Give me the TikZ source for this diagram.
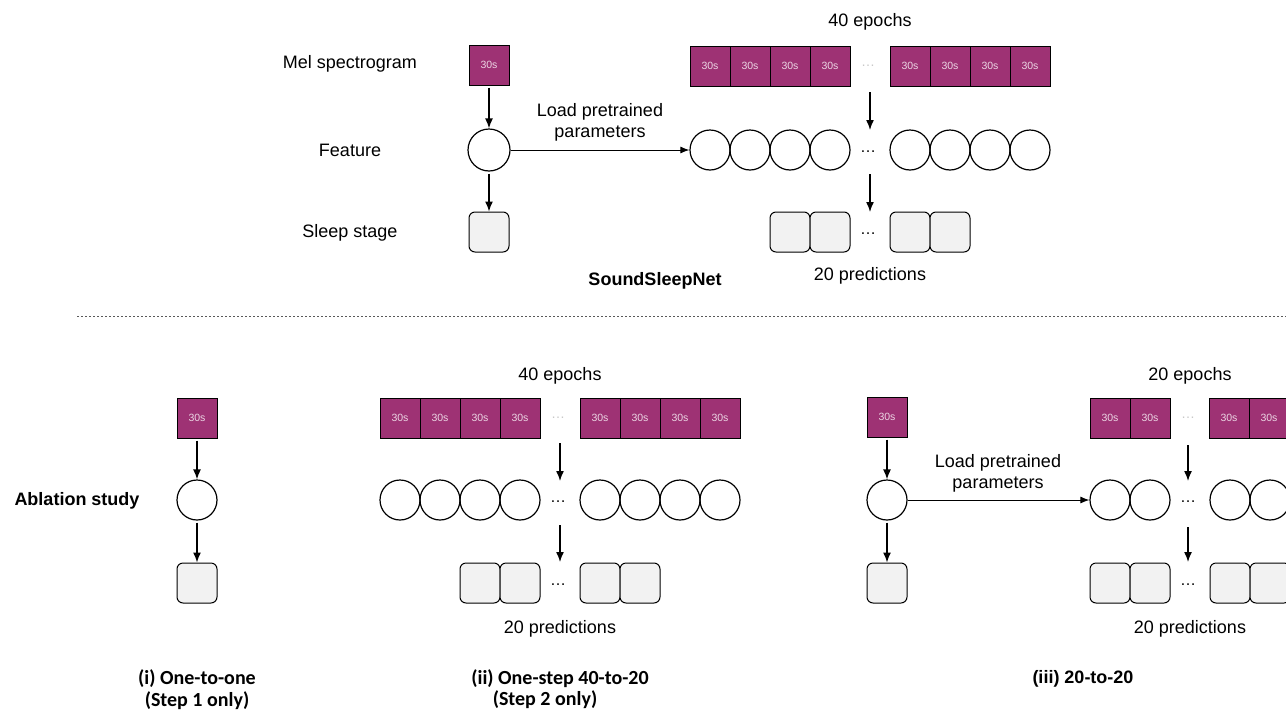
\documentclass[tikz,border=0pt]{standalone}
\usepackage{fontspec}
\setmainfont{Liberation Sans}
\newfontfamily\capfont{Carlito}
\usetikzlibrary{arrows.meta}
\definecolor{melfill}{RGB}{158,50,116}
\definecolor{meltext}{RGB}{236,214,228}
\definecolor{stagefill}{RGB}{242,242,242}
\definecolor{dotgray}{RGB}{200,200,200}

\begin{document}
\begin{tikzpicture}[x=1pt, y=-1pt,
	epoch/.style={shape=rectangle, draw=black, line width=1pt, fill=melfill, minimum size=40pt, inner sep=0pt, text=meltext, font=\fontsize{10.5}{12}\selectfont},
	feat/.style={shape=circle, draw=black, line width=1.2pt, minimum size=40pt, inner sep=0pt},
	stage/.style={shape=rectangle, rounded corners=6pt, draw=black, line width=1pt, fill=stagefill, minimum size=40pt, inner sep=0pt},
	lbl/.style={font=\fontsize{18}{21}\selectfont, align=center},
	bold/.style={font=\fontsize{18}{21}\selectfont\bfseries},
	capt/.style={font=\capfont\fontsize{20}{22}\selectfont\bfseries},
	bdots/.style={font=\fontsize{16}{18}\selectfont},
	gdots/.style={font=\fontsize{14}{16}\selectfont, text=dotgray},
	arr/.style={-{Latex[length=10pt,width=8pt]}, line width=1.4pt, shorten <=2pt},
	load/.style={-{Latex[length=9pt,width=7pt]}, line width=1pt}]
	
	\useasboundingbox (0,0) rectangle (1286,710);
	\clip (0,0) rectangle (1286,710);
	
	% SoundSleepNet
	\node[lbl] (tmel)   at (350,64)  {Mel spectrogram};
	\node[lbl] (tfeat)  at (350,150) {Feature};
	\node[lbl] (tstage) at (350,233) {Sleep stage};
	
	\node[epoch] (ts) at (489,65) {30s};
	\node[feat, minimum size=42pt] (tc) at (489,150) {};
	\node[stage] (tb) at (489,232) {};
	
	\node[lbl] (tload) at (600,122) {Load pretrained\\parameters};
	\node[lbl] (tep)   at (870,22)  {40 epochs};
	
	\node[epoch] (te1) at (710,66)  {30s};
	\node[epoch] (te2) at (750,66)  {30s};
	\node[epoch] (te3) at (790,66)  {30s};
	\node[epoch] (te4) at (830,66)  {30s};
	\node[gdots] (tgd) at (868,66)  {\ldots};
	\node[epoch] (te5) at (910,66)  {30s};
	\node[epoch] (te6) at (950,66)  {30s};
	\node[epoch] (te7) at (990,66)  {30s};
	\node[epoch] (te8) at (1030,66) {30s};
	
	\node[feat] (tf1) at (710,150)  {};
	\node[feat] (tf2) at (750,150)  {};
	\node[feat] (tf3) at (790,150)  {};
	\node[feat] (tf4) at (830,150)  {};
	\node[bdots] (tfd) at (868,152) {\ldots};
	\node[feat] (tf5) at (910,150)  {};
	\node[feat] (tf6) at (950,150)  {};
	\node[feat] (tf7) at (990,150)  {};
	\node[feat] (tf8) at (1030,150) {};
	
	\node[stage] (tp1) at (790,232) {};
	\node[stage] (tp2) at (830,232) {};
	\node[bdots] (tpd) at (868,234) {\ldots};
	\node[stage] (tp3) at (910,232) {};
	\node[stage] (tp4) at (950,232) {};
	
	\node[lbl]  (tpred) at (870,276) {20 predictions};
	\node[bold] (tname) at (655,281) {SoundSleepNet};
	
	\coordinate (ta1) at (870,90);
	\coordinate (ta2) at (870,130);
	\coordinate (ta3) at (870,172);
	\coordinate (ta4) at (870,212);
	
	\path[arr] (ts) edge (tc);
	\path[arr] (tc) edge (tb);
	\path[load] (tc) edge (tf1);
	\path[arr] (ta1) edge (ta2);
	\path[arr] (ta3) edge (ta4);
	
	% separator
	\coordinate (sl) at (77,316);
	\coordinate (sr) at (1286,316);
	\draw[dash pattern=on 2pt off 2pt, line width=0.8pt, black!65] (sl) -- (sr);
	
	% Ablation study
	\node[bold] (abl) at (77,501) {Ablation study};
	
	% (i)
	\node[epoch] (as) at (197,418) {30s};
	\node[feat]  (ac) at (197,500) {};
	\node[stage] (ab) at (197,583) {};
	\path[arr] (as) edge (ac);
	\path[arr] (ac) edge (ab);
	\node[capt, align=center] (acap) at (197,690) {(i) One-to-one\\(Step 1 only)};
	
	% (ii)
	\node[lbl] (bep) at (560,376) {40 epochs};
	\node[epoch] (be1) at (400,418) {30s};
	\node[epoch] (be2) at (440,418) {30s};
	\node[epoch] (be3) at (480,418) {30s};
	\node[epoch] (be4) at (520,418) {30s};
	\node[gdots] (bgd) at (558,418) {\ldots};
	\node[epoch] (be5) at (600,418) {30s};
	\node[epoch] (be6) at (640,418) {30s};
	\node[epoch] (be7) at (680,418) {30s};
	\node[epoch] (be8) at (720,418) {30s};
	
	\node[feat] (bf1) at (400,500) {};
	\node[feat] (bf2) at (440,500) {};
	\node[feat] (bf3) at (480,500) {};
	\node[feat] (bf4) at (520,500) {};
	\node[bdots] (bfd) at (558,502) {\ldots};
	\node[feat] (bf5) at (600,500) {};
	\node[feat] (bf6) at (640,500) {};
	\node[feat] (bf7) at (680,500) {};
	\node[feat] (bf8) at (720,500) {};
	
	\node[stage] (bp1) at (480,583) {};
	\node[stage] (bp2) at (520,583) {};
	\node[bdots] (bpd) at (558,585) {\ldots};
	\node[stage] (bp3) at (600,583) {};
	\node[stage] (bp4) at (640,583) {};
	
	\node[lbl] (bpred) at (560,629) {20 predictions};
	\coordinate (ba1) at (560,441);
	\coordinate (ba2) at (560,481);
	\coordinate (ba3) at (560,523);
	\coordinate (ba4) at (560,562);
	\path[arr] (ba1) edge (ba2);
	\path[arr] (ba3) edge (ba4);
	\node[capt] (bcap1) at (560,679) {(ii) One-step 40-to-20};
	\node[capt] (bcap2) at (545,700) {(Step 2 only)};
	
	% (iii)
	\node[epoch] (cs) at (887,417) {30s};
	\node[feat]  (cc) at (887,500) {};
	\node[stage] (cb) at (887,583) {};
	\path[arr] (cs) edge (cc);
	\path[arr] (cc) edge (cb);
	
	\node[lbl] (cload) at (998,473) {Load pretrained\\parameters};
	\node[lbl] (cep)   at (1190,376) {20 epochs};
	
	\node[epoch] (ce1) at (1110,418) {30s};
	\node[epoch] (ce2) at (1150,418) {30s};
	\node[gdots] (cgd) at (1188,418) {\ldots};
	\node[epoch] (ce3) at (1229,418) {30s};
	\node[epoch] (ce4) at (1269,418) {30s};
	
	\node[feat] (cf1) at (1110,500) {};
	\node[feat] (cf2) at (1150,500) {};
	\node[bdots] (cfd) at (1188,502) {\ldots};
	\node[feat] (cf3) at (1230,500) {};
	\node[feat] (cf4) at (1270,500) {};
	
	\node[stage] (cp1) at (1110,583) {};
	\node[stage] (cp2) at (1150,583) {};
	\node[bdots] (cpd) at (1188,585) {\ldots};
	\node[stage] (cp3) at (1230,583) {};
	\node[stage] (cp4) at (1270,583) {};
	
	\node[lbl] (cpred) at (1190,629) {20 predictions};
	\path[load] (cc) edge (cf1);
	\coordinate (ca1) at (1188,443);
	\coordinate (ca2) at (1188,481);
	\coordinate (ca3) at (1188,525);
	\coordinate (ca4) at (1188,562);
	\path[arr] (ca1) edge (ca2);
	\path[arr] (ca3) edge (ca4);
	\node[bold] (ccap) at (1083,679) {(iii) 20-to-20};
	
\end{tikzpicture}
\end{document}
